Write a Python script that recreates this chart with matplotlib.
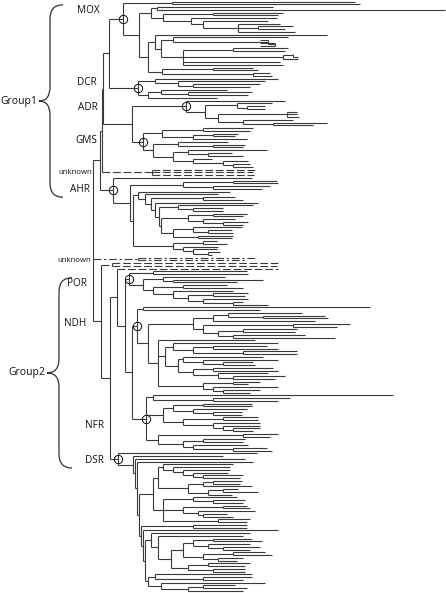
import matplotlib
matplotlib.use("Agg")
import matplotlib.pyplot as plt
from matplotlib.collections import LineCollection
from matplotlib.path import Path
from matplotlib.patches import PathPatch

# ---------------- data: clade trees (node value = distance from root) -------------
# format: internal node "(child,child,...)depth", leaf "depth"
MOX_A = "(262,267)79"
MOX_NA = "((180,352)64,((190,185)120,(184,(175,(187,(200,192)165,202)145)110)98)70)58"
MOX_T = "(195,(167,(167,167)182)175)80"
MOX_S = "((195,192)140,((200,205)200,205)190,187,190)90"
MOX_Q = "((160,165)120,(177,179)160)69"
MOX = "(" + MOX_A + ",(" + MOX_NA + ",((234,(" + MOX_T + "," + MOX_S + ")68)62," + MOX_Q + ")55)46)30"

DCR = "((185,(172,(167,157)100)85)62,((134,(159,155)95)68,124)55)45"
ADR = "(192,((179,(172,172)154)144,((204,204,206)194,(200,(234,220)180)150)125)112)93"
GMS = ("(((160,157)110,((145,142)120,154)100)69,((135,(152,150)120)85,"
       "((174,(139,150)115)95,(119,(155,(157,160)140)130)100)80)60)50")
UNK1 = "(162,160,161)59"

AHR_K = "((184,185)140,(177,169)120)90"
AHR_T = ("(137,(125,((142,150)110,(165,((160,(130,130)100)85,(((154,150)120,"
         "(142,(155,150)130)110)95,((149,(139,140)115)100,(140,139)105)80)68)66)62)58)52)45")
AHR_B = "((124,134)110,(125,(124,(127,119)115)100)90)80"
AHR = "(159,(" + AHR_K + ",(" + AHR_T + "," + AHR_B + ")40)37)20"

UNK2A = "(162,152)45"
UNK2B = "(185,184)19"
UNK2C = "185"

POR = ("((154,155)60,((132,(170,144)80)70,((134,150)90,(140,((155,152)120,"
       "(155,(150,175)140)110)95)80)60)50)36")

NDH_H = ("(((209,(232,235)170)135,222)120,((257,244)200,((204,202)150,"
         "(212,242)140)125)110)100")
NDH_A = "(185,((174,185)120,(204,204)150)100)80"
NDH_B = "((170,(185,(160,162)130)110)90,((180,185)120,(175,(192,182)140)125)100)85"
NDH_J3 = "((167,155)140,(185,(167,157)130)120)110"
NDH_J = "(162,(" + NDH_A + "," + NDH_B + ")72," + NDH_J3 + ")65"
NDH = "((277,167)50,(" + NDH_H + "," + NDH_J + ")55)44"

NFR_1 = "(300,(197,185)120)60"
NFR_2 = ("(((159,159)110,(154,(149,149)120)100)80,((165,165)130,"
         "(167,(167,(167,160)140)130)120)90)70")
NFR_3 = "((185,177)150,((152,150)110,(155,(174,179)140)100)90)65"
NFR = "(" + NFR_1 + "," + NFR_2 + "," + NFR_3 + ")53"

DSR_U1 = ("((140,(137,(137,(135,(150,147)110)100)90)80)70,(((149,147)120,159)110,"
          "((145,165)130,139)115)95)65")
DSR_U2 = "((144,(152,150)120)100,((154,157)130,(162,(134,140)110)105)90,(157,154)125)70"
DSR_V = ("(157,(150,((((159,169)120,(157,(167,157)130)115)100,((172,179)140,"
         "(150,144)125)110)90,((157,152)115,(152,152)120)95)78)65)58")
DSR_W = "((159,(159,150)110)62,(172,((142,154)110,150)95)68)55"
DSR = ("(164,(130,(152,(160,((" + DSR_U1 + "," + DSR_U2 + ")60,((154,154)100,(185,("
       + DSR_V + "," + DSR_W + ")52)50)48)46)44)42)40)25")

BACKBONE = ("(((((MOX,DCR)16,(ADR,GMS)39)10,UNK1)9,AHR)7,UNK2A,"
            "(UNK2B,((UNK2C,(POR,(NDH,NFR)39)32)24,DSR)17)8)0")

CLADES = {"MOX": MOX, "DCR": DCR, "ADR": ADR, "GMS": GMS, "UNK1": UNK1, "AHR": AHR,
          "UNK2A": UNK2A, "UNK2B": UNK2B, "UNK2C": UNK2C, "POR": POR, "NDH": NDH,
          "NFR": NFR, "DSR": DSR}
NAMED = ["MOX", "DCR", "ADR", "GMS", "AHR", "POR", "NDH", "NFR", "DSR"]
UNKNOWN_STYLE = {"UNK1": "dashed", "UNK2A": "dashdot", "UNK2B": "dashed", "UNK2C": "dashed"}

# labels: (text, clade, right-edge x in px, y offset from clade node)
LABELS = [("MOX", "MOX", 100, -8), ("DCR", "DCR", 97, -5), ("ADR", "ADR", 98, 1),
          ("GMS", "GMS", 97, -1), ("AHR", "AHR", 90, -1), ("POR", "POR", 87, 5),
          ("NDH", "NDH", 86, -3), ("NFR", "NFR", 104, 7), ("DSR", "DSR", 104, 1)]
UNKNOWN_LABELS = [("unknown", "UNK1", 92, 0), ("unknown", "UNK2A", 91, 1)]
GROUPS = [("Group1", ["MOX", "AHR"], 63, 50, 39), ("Group2", ["POR", "DSR"], 72, 59, 47)]

ROOT_PX = 93


# ---------------- parsing ----------------
def parse(s):
    pos = 0

    def node():
        nonlocal pos
        kids = []
        if s[pos] == "(":
            pos += 1
            kids.append(node())
            while s[pos] == ",":
                pos += 1
                kids.append(node())
            pos += 1
        start = pos
        while pos < len(s) and s[pos] not in ",()":
            pos += 1
        return {"kids": kids, "tok": s[start:pos]}
    return node()


def expand(n, style=None, clade=None):
    if not n["kids"] and not n["tok"].replace(".", "").isdigit():
        name = n["tok"]
        sub = parse(CLADES[name])
        return expand(sub, UNKNOWN_STYLE.get(name, "solid"), name)
    out = {"d": float(n["tok"]), "style": style or "solid", "clade": clade,
           "kids": [expand(k, style, None) for k in n["kids"]]}
    return out


tree = expand(parse(BACKBONE))

# leaf order -> y
leaves = []
def collect(n):
    if not n["kids"]:
        leaves.append(n)
    for k in n["kids"]:
        collect(k)
collect(tree)
y0, y1 = 1.5, 591.0
step = (y1 - y0) / (len(leaves) - 1)
for i, lf in enumerate(leaves):
    lf["y"] = y0 + i * step

clade_nodes = {}
def set_y(n):
    if n["kids"]:
        for k in n["kids"]:
            set_y(k)
        n["y"] = (n["kids"][0]["y"] + n["kids"][-1]["y"]) / 2
    if n["clade"]:
        clade_nodes[n["clade"]] = n
set_y(tree)

segs = {"solid": [], "dashed": [], "dashdot": []}
def draw(n, parent_d):
    st = n["style"]
    if parent_d is not None:
        segs[st].append([(parent_d, n["y"]), (n["d"], n["y"])])
    if n["kids"]:
        segs[st].append([(n["d"], n["kids"][0]["y"]), (n["d"], n["kids"][-1]["y"])])
        for k in n["kids"]:
            draw(k, n["d"])
draw(tree, None)

# ---------------- plotting ----------------
fig = plt.figure(figsize=(4.46, 5.93), dpi=100)
ax = fig.add_axes([0, 0, 1, 1])
ax.set_xlim(-ROOT_PX, 446 - ROOT_PX)
ax.set_ylim(593, 0)
ax.axis("off")

col = "#3a3a3a"
ax.add_collection(LineCollection(segs["solid"], colors=col, linewidths=0.8,
                                 capstyle="butt"))
ax.add_collection(LineCollection(segs["dashed"], colors=col, linewidths=0.8,
                                 linestyles=[(0, (7, 2.5))]))
ax.add_collection(LineCollection(segs["dashdot"], colors=col, linewidths=0.8,
                                 linestyles=[(0, (7, 2.5, 2, 2.5))]))

for name in NAMED:
    n = clade_nodes[name]
    ax.plot(n["d"], n["y"], "o", ms=6, mfc="none", mec="#111", mew=0.7)

font = "Open Sans"
for txt, cl, xr, dy in LABELS:
    n = clade_nodes[cl]
    ax.text(xr - ROOT_PX, n["y"] + dy, txt, ha="right", va="center",
            fontsize=7.2, family=font, color="#111")
for txt, cl, xr, dy in UNKNOWN_LABELS:
    n = clade_nodes[cl]
    ax.text(xr - ROOT_PX, n["y"] + dy, txt, ha="right", va="center",
            fontsize=5.6, family=font, color="#111")

label_y = {cl: clade_nodes[cl]["y"] + dy for _, cl, _, dy in LABELS}
for gname, (first, last), x_end, x_sp, x_tip in GROUPS:
    yt = label_y[first] - 6
    yb = label_y[last] + 8
    ym = (yt + yb) / 2
    r = 14
    xe, xs, xt = x_end - ROOT_PX, x_sp - ROOT_PX, x_tip - ROOT_PX
    verts = [(xe, yt), (xs, yt), (xs, yt + r), (xs, ym - r), (xs, ym), (xt, ym),
             (xs, ym), (xs, ym + r), (xs, yb - r), (xs, yb), (xe, yb)]
    codes = [Path.MOVETO, Path.CURVE3, Path.CURVE3, Path.LINETO, Path.CURVE3,
             Path.CURVE3, Path.CURVE3, Path.CURVE3, Path.LINETO, Path.CURVE3, Path.CURVE3]
    ax.add_patch(PathPatch(Path(verts, codes), fill=False, ec="#333", lw=0.9))
    ax.text(xt - 2, ym, gname, ha="right", va="center", fontsize=7.5,
            family=font, color="#111")

fig.savefig("out.png", dpi=100)
